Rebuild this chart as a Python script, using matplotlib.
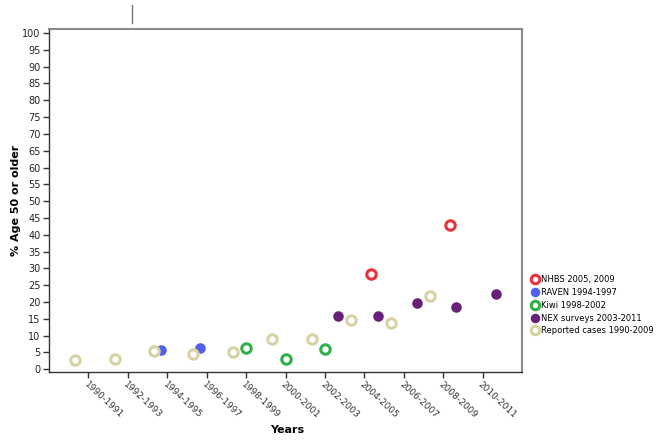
import numpy as np
import matplotlib.pyplot as plt
from matplotlib.lines import Line2D

# tick positions / labels on the year axis
tick_pos = [1991, 1993, 1995, 1997, 1999, 2001, 2003, 2005, 2007, 2009, 2011]
tick_labels = ["1990-1991", "1992-1993", "1994-1995", "1996-1997", "1998-1999",
               "2000-2001", "2002-2003", "2004-2005", "2006-2007", "2008-2009",
               "2010-2011"]

# series (x = plotted year position, y = % age 50 or older)
nhbs_x = [2005.33, 2009.33]
nhbs_y = [28.2, 42.8]

raven_x = [1994.67, 1996.67]
raven_y = [5.6, 6.4]

kiwi_x = [1999.0, 2001.0, 2003.0]
kiwi_y = [6.4, 3.1, 5.9]

nex_x = [2003.67, 2005.67, 2007.67, 2009.67, 2011.67]
nex_y = [16.0, 16.0, 19.7, 18.4, 22.4]

rep_x = [1990.33, 1992.33, 1994.33, 1996.33, 1998.33, 2000.33, 2002.33,
         2004.33, 2006.33, 2008.33]
rep_y = [2.7, 3.1, 5.3, 4.7, 5.2, 9.1, 9.0, 14.7, 13.9, 21.7]

c_red = "#e8323c"
c_blue = "#4f60ee"
c_green = "#2fb04a"
c_purple = "#6a1f78"
c_beige = "#d9d1a3"

fig = plt.figure(figsize=(6.64, 4.41), dpi=100)
ax = fig.add_axes([49 / 664, 1 - 372 / 441, (522 - 49) / 664, (372 - 29) / 441])

ms = 6.8
mew = 2.2
ax.plot(nhbs_x, nhbs_y, "o", ms=ms, mfc="white", mec=c_red, mew=mew, label="NHBS 2005, 2009")
ax.plot(raven_x, raven_y, "o", ms=ms + 0.8, mfc=c_blue, mec=c_blue, mew=0, label="RAVEN 1994-1997")
ax.plot(kiwi_x, kiwi_y, "o", ms=ms, mfc="white", mec=c_green, mew=mew, label="Kiwi 1998-2002")
ax.plot(nex_x, nex_y, "o", ms=ms + 0.8, mfc=c_purple, mec=c_purple, mew=0, label="NEX surveys 2003-2011")
ax.plot(rep_x, rep_y, "o", ms=ms, mfc="white", mec=c_beige, mew=mew, label="Reported cases 1990-2009")

ax.set_xlim(1989, 2013)
ax.set_ylim(-0.8, 101.2)
ax.set_yticks(np.arange(0, 101, 5))
ax.set_yticklabels([str(v) for v in range(0, 101, 5)], fontsize=7, color="#222222")
ax.set_xticks(tick_pos)
ax.set_xticklabels(tick_labels, fontsize=6.5, rotation=-43, ha="left", va="top",
                   rotation_mode="anchor", color="#333333")
ax.tick_params(axis="both", length=4, width=1, color="#333333", pad=2)

for s in ["left", "bottom"]:
    ax.spines[s].set_color("#333333")
    ax.spines[s].set_linewidth(1.0)
for s in ["top", "right"]:
    ax.spines[s].set_color("#8a8a8a")
    ax.spines[s].set_linewidth(1.5)

ax.set_ylabel("% Age 50 or older", fontsize=8, fontweight="bold")
ax.yaxis.set_label_coords(-0.06, 0.5)
fig.text(287 / 664, 1 - 430 / 441, "Years", fontsize=8, fontweight="bold",
         ha="center", va="center")

leg = fig.legend(loc="upper left", bbox_to_anchor=(528 / 664, 1 - 272 / 441),
                 frameon=False, fontsize=6, handletextpad=0.3, handlelength=0.9,
                 labelspacing=0.45, borderaxespad=0, markerscale=0.9)

# stray tick mark above the plot
fig.add_artist(Line2D([132 / 664, 132 / 664], [1 - 5 / 441, 1 - 23 / 441],
                      color="#777777", lw=1))

fig.savefig("out.png", dpi=100)
